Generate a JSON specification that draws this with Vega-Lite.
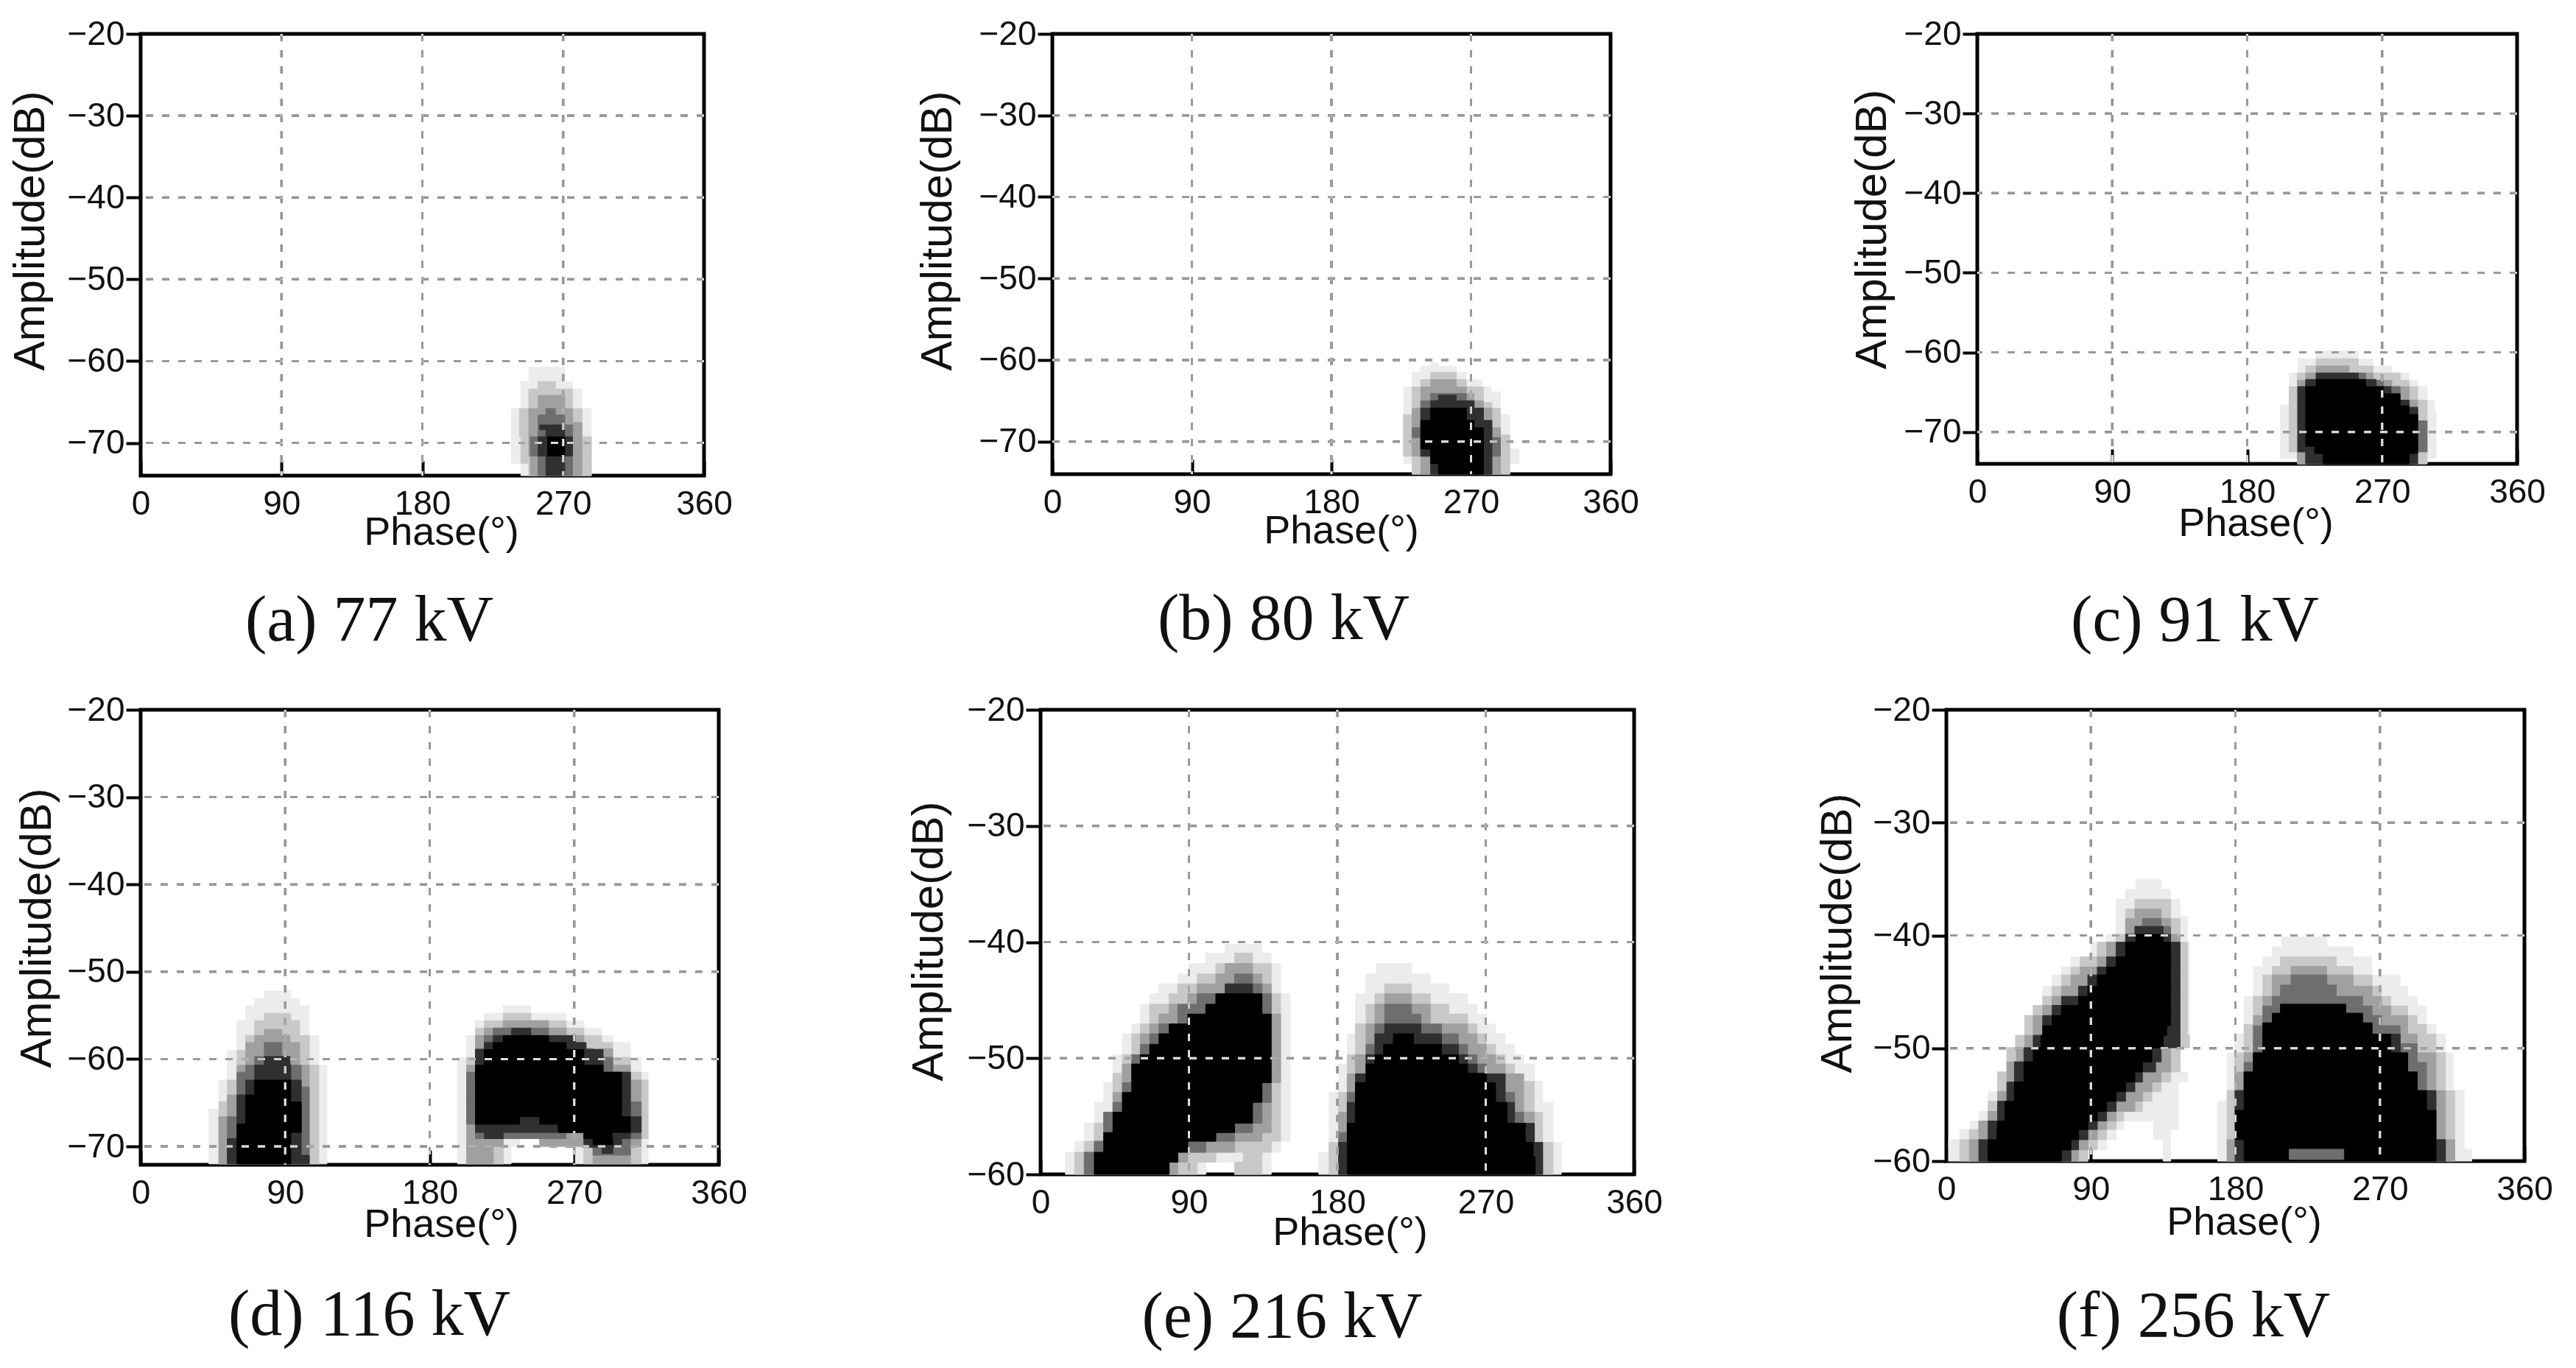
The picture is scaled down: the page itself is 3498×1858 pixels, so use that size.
{"$schema":"https://vega.github.io/schema/vega-lite/v6.json","background":"white","padding":{"left":8,"top":20,"right":0,"bottom":0},"autosize":{"type":"pad"},"spacing":47,
"config":{"view":{"stroke":"#000","strokeWidth":5},"axis":{"grid":false,"domain":false,"tickColor":"#000","tickWidth":4,"labelFont":"Liberation Sans","labelFontSize":46,"labelColor":"#111","titleFont":"Liberation Sans","titleFontSize":54,"titleFontWeight":"normal","titleColor":"#111","labelOverlap":false,"labelFlush":false,"labelBound":false,"zindex":1},"title":{"font":"Liberation Serif","fontSize":88,"fontWeight":"normal","color":"#111","orient":"bottom","anchor":"middle","frame":"group"},"rule":{"strokeDash":[10,12],"strokeWidth":3}},
"datasets":{
"xg":[{"p":90},{"p":180},{"p":270}],
"yg5":[{"q":-30},{"q":-40},{"q":-50},{"q":-60},{"q":-70}],
"yg3":[{"q":-30},{"q":-40},{"q":-50}],
"blank":[{"s":0}],
"a":[
{"a0":-60.75,"a1":-62.5,"p0":248,"p1":271,"v":1},{"a0":-62.5,"a1":-63.4,"p0":243,"p1":276,"v":1},{"a0":-63.4,"a1":-65.8,"p0":243,"p1":282,"v":1},{"a0":-65.8,"a1":-72.5,"p0":237,"p1":288,"v":1},{"a0":-72.5,"a1":-74,"p0":243,"p1":288,"v":1},
{"a0":-62.5,"a1":-63.4,"p0":254,"p1":265,"v":2},{"a0":-63.4,"a1":-65.8,"p0":248,"p1":276,"v":2},{"a0":-65.8,"a1":-69.25,"p0":242,"p1":282,"v":2},{"a0":-69.25,"a1":-72.5,"p0":243,"p1":288,"v":2},{"a0":-72.5,"a1":-74,"p0":248,"p1":288,"v":2},
{"a0":-64.2,"a1":-65.8,"p0":254,"p1":271,"v":3},{"a0":-65.8,"a1":-67.5,"p0":248,"p1":276,"v":3},{"a0":-67.5,"a1":-71.6,"p0":248,"p1":282,"v":3},{"a0":-71.6,"a1":-74,"p0":249,"p1":282,"v":3},
{"a0":-65.8,"a1":-66.6,"p0":259,"p1":265,"v":4},{"a0":-66.6,"a1":-67.8,"p0":254,"p1":271,"v":4},{"a0":-67.8,"a1":-69.25,"p0":254,"p1":276,"v":4},{"a0":-69.25,"a1":-71.6,"p0":249,"p1":276,"v":4},{"a0":-71.6,"a1":-74,"p0":254,"p1":276,"v":4},
{"a0":-67.8,"a1":-68.4,"p0":255,"p1":270,"v":5},{"a0":-68.4,"a1":-69.25,"p0":259,"p1":271,"v":5},{"a0":-69.25,"a1":-71.6,"p0":254,"p1":276,"v":5},{"a0":-71.6,"a1":-74,"p0":259,"p1":271,"v":5},
{"a0":-69.25,"a1":-71.6,"p0":260,"p1":271,"v":6}],
"b":[
{"a0":-60.3,"a1":-60.8,"p0":244,"p1":249,"v":1},{"a0":-60.8,"a1":-61.5,"p0":237.6,"p1":260.5,"v":1},{"a0":-61.5,"a1":-62.4,"p0":232,"p1":267,"v":1},{"a0":-62.4,"a1":-63.3,"p0":232,"p1":277,"v":1},{"a0":-63.3,"a1":-63.9,"p0":226.5,"p1":283,"v":1},{"a0":-63.9,"a1":-66.7,"p0":226.5,"p1":289,"v":1},{"a0":-66.7,"a1":-70.9,"p0":226.5,"p1":295,"v":1},{"a0":-70.9,"a1":-72.7,"p0":226.5,"p1":301,"v":1},{"a0":-72.7,"a1":-74,"p0":232,"p1":295,"v":1},
{"a0":-61.5,"a1":-62.4,"p0":244,"p1":260.5,"v":2},{"a0":-62.4,"a1":-63.3,"p0":237.6,"p1":267,"v":2},{"a0":-63.3,"a1":-65.2,"p0":232,"p1":278,"v":2},{"a0":-65.2,"a1":-65.9,"p0":232,"p1":283.5,"v":2},{"a0":-65.9,"a1":-66.7,"p0":232,"p1":289,"v":2},{"a0":-66.7,"a1":-69.2,"p0":226.5,"p1":289,"v":2},{"a0":-69.2,"a1":-71.8,"p0":226.5,"p1":295,"v":2},{"a0":-71.8,"a1":-74,"p0":232,"p1":295,"v":2},
{"a0":-62.4,"a1":-63.3,"p0":244,"p1":260.5,"v":3},{"a0":-63.3,"a1":-64.1,"p0":237.6,"p1":267,"v":3},{"a0":-64.1,"a1":-65,"p0":237.6,"p1":272,"v":3},{"a0":-65,"a1":-65.9,"p0":237.6,"p1":278,"v":3},{"a0":-65.9,"a1":-68.3,"p0":232,"p1":283.5,"v":3},{"a0":-68.3,"a1":-71.8,"p0":232,"p1":289,"v":3},{"a0":-71.8,"a1":-74,"p0":237.6,"p1":289,"v":3},
{"a0":-64.1,"a1":-65,"p0":244,"p1":267,"v":4},{"a0":-65,"a1":-65.9,"p0":237.6,"p1":272,"v":4},{"a0":-65.9,"a1":-68.3,"p0":237.6,"p1":278,"v":4},{"a0":-68.3,"a1":-69.5,"p0":232,"p1":283.5,"v":4},{"a0":-69.5,"a1":-71.8,"p0":237.6,"p1":289,"v":4},{"a0":-71.8,"a1":-74,"p0":244,"p1":283.5,"v":4},
{"a0":-64.3,"a1":-65,"p0":249,"p1":260.5,"v":5},{"a0":-65,"a1":-65.9,"p0":244,"p1":272,"v":5},{"a0":-65.9,"a1":-67.4,"p0":237.6,"p1":278,"v":5},{"a0":-67.4,"a1":-71.8,"p0":237.6,"p1":283.5,"v":5},{"a0":-71.8,"a1":-74,"p0":244,"p1":283.5,"v":5},
{"a0":-65.9,"a1":-67.4,"p0":244,"p1":267,"v":6},{"a0":-67.4,"a1":-68.3,"p0":237.6,"p1":272,"v":6},{"a0":-68.3,"a1":-70.9,"p0":237.6,"p1":278,"v":6},{"a0":-70.9,"a1":-72.7,"p0":244,"p1":278,"v":6},{"a0":-72.7,"a1":-74,"p0":249,"p1":278,"v":6}],
"c":[
{"a0":-59.85,"a1":-60.8,"p0":226,"p1":254,"v":1},{"a0":-60.8,"a1":-61.7,"p0":214,"p1":264,"v":1},{"a0":-61.7,"a1":-62.6,"p0":214,"p1":276.5,"v":1},{"a0":-62.6,"a1":-63.5,"p0":208,"p1":288,"v":1},{"a0":-63.5,"a1":-64.3,"p0":208,"p1":293.7,"v":1},{"a0":-64.3,"a1":-66,"p0":208,"p1":300,"v":1},{"a0":-66,"a1":-66.6,"p0":208,"p1":305,"v":1},{"a0":-66.6,"a1":-67.5,"p0":202,"p1":305,"v":1},{"a0":-67.5,"a1":-73.3,"p0":202,"p1":306,"v":1},{"a0":-73.3,"a1":-74,"p0":214,"p1":300,"v":1},
{"a0":-60.8,"a1":-61.7,"p0":226,"p1":254,"v":2},{"a0":-61.7,"a1":-62.6,"p0":219,"p1":264,"v":2},{"a0":-62.6,"a1":-63.5,"p0":213.5,"p1":282,"v":2},{"a0":-63.5,"a1":-64.3,"p0":213.5,"p1":288,"v":2},{"a0":-64.3,"a1":-66,"p0":208,"p1":293.7,"v":2},{"a0":-66,"a1":-72.5,"p0":208,"p1":300,"v":2},{"a0":-72.5,"a1":-74,"p0":213.5,"p1":300,"v":2},
{"a0":-61.7,"a1":-62.6,"p0":226,"p1":248,"v":3},{"a0":-62.6,"a1":-63.5,"p0":219,"p1":264,"v":3},{"a0":-63.5,"a1":-64.3,"p0":213.5,"p1":276.5,"v":3},{"a0":-64.3,"a1":-66,"p0":213.5,"p1":288,"v":3},{"a0":-66,"a1":-74,"p0":213.5,"p1":293.7,"v":3},
{"a0":-62.6,"a1":-63.5,"p0":226,"p1":259,"v":4},{"a0":-63.5,"a1":-64.3,"p0":219,"p1":271,"v":4},{"a0":-64.3,"a1":-66,"p0":213.5,"p1":282,"v":4},{"a0":-66,"a1":-66.9,"p0":213.5,"p1":288,"v":4},{"a0":-66.9,"a1":-68.6,"p0":213.5,"p1":293.7,"v":4},{"a0":-68.6,"a1":-72.5,"p0":213.5,"p1":300,"v":4},{"a0":-72.5,"a1":-74,"p0":219,"p1":288,"v":4},
{"a0":-62.6,"a1":-63.4,"p0":226,"p1":254,"v":5},{"a0":-63.4,"a1":-64.3,"p0":219,"p1":266,"v":5},{"a0":-64.3,"a1":-66,"p0":214,"p1":276,"v":5},{"a0":-66,"a1":-66.9,"p0":214,"p1":288,"v":5},{"a0":-66.9,"a1":-72.5,"p0":214,"p1":293.7,"v":5},{"a0":-72.5,"a1":-74,"p0":219,"p1":293.7,"v":5},
{"a0":-63.4,"a1":-64.3,"p0":226,"p1":259,"v":6},{"a0":-64.3,"a1":-65.2,"p0":219,"p1":271,"v":6},{"a0":-65.2,"a1":-66.7,"p0":219,"p1":282,"v":6},{"a0":-66.7,"a1":-67.8,"p0":219,"p1":288,"v":6},{"a0":-67.8,"a1":-71.8,"p0":219,"p1":293.7,"v":6},{"a0":-71.8,"a1":-72.7,"p0":225,"p1":293.7,"v":6},{"a0":-72.7,"a1":-74,"p0":230.7,"p1":288,"v":6}],
"d":[
{"a0":-52.2,"a1":-53.06,"p0":77,"p1":93.5,"v":1},{"a0":-53.06,"a1":-53.9,"p0":71,"p1":99,"v":1},{"a0":-53.9,"a1":-55.6,"p0":65.4,"p1":105,"v":1},{"a0":-55.6,"a1":-57.3,"p0":60,"p1":105,"v":1},{"a0":-57.3,"a1":-59,"p0":60,"p1":111,"v":1},{"a0":-59,"a1":-60.7,"p0":54,"p1":111,"v":1},{"a0":-60.7,"a1":-62.4,"p0":54,"p1":116,"v":1},{"a0":-62.4,"a1":-65.75,"p0":48.7,"p1":116,"v":1},{"a0":-65.75,"a1":-72,"p0":42.5,"p1":116,"v":1},
{"a0":-53.9,"a1":-54.75,"p0":225.8,"p1":243,"v":1},{"a0":-54.75,"a1":-55.6,"p0":214,"p1":265,"v":1},{"a0":-55.6,"a1":-56.45,"p0":208.5,"p1":276,"v":1},{"a0":-56.45,"a1":-57.3,"p0":208.5,"p1":287,"v":1},{"a0":-57.3,"a1":-58.1,"p0":203,"p1":294,"v":1},{"a0":-58.1,"a1":-59.8,"p0":203,"p1":305,"v":1},{"a0":-59.8,"a1":-61.5,"p0":197.4,"p1":311.7,"v":1},{"a0":-61.5,"a1":-69.1,"p0":197.4,"p1":316,"v":1},{"a0":-69.1,"a1":-70,"p0":197.4,"p1":236,"v":1},{"a0":-69.1,"a1":-70,"p0":248.5,"p1":316,"v":1},{"a0":-70,"a1":-72,"p0":197.4,"p1":230.7,"v":1},{"a0":-70,"a1":-72,"p0":270.7,"p1":316,"v":1},
{"a0":-54.75,"a1":-55.6,"p0":77,"p1":93.5,"v":2},{"a0":-55.6,"a1":-57.3,"p0":71,"p1":99,"v":2},{"a0":-57.3,"a1":-59,"p0":65.4,"p1":105,"v":2},{"a0":-59,"a1":-60.7,"p0":60,"p1":105,"v":2},{"a0":-60.7,"a1":-62.4,"p0":60,"p1":111,"v":2},{"a0":-62.4,"a1":-64.9,"p0":54,"p1":111,"v":2},{"a0":-64.9,"a1":-72,"p0":48.7,"p1":111,"v":2},
{"a0":-54.75,"a1":-55.6,"p0":225.8,"p1":243,"v":2},{"a0":-55.6,"a1":-56.45,"p0":214,"p1":265,"v":2},{"a0":-56.45,"a1":-57.3,"p0":208.5,"p1":276,"v":2},{"a0":-57.3,"a1":-58.1,"p0":208.5,"p1":287,"v":2},{"a0":-58.1,"a1":-59.8,"p0":208.5,"p1":294,"v":2},{"a0":-59.8,"a1":-61.5,"p0":203,"p1":305,"v":2},{"a0":-61.5,"a1":-62.4,"p0":203,"p1":311.7,"v":2},{"a0":-62.4,"a1":-68.4,"p0":203,"p1":316,"v":2},{"a0":-68.4,"a1":-69.1,"p0":203,"p1":236,"v":2},{"a0":-68.4,"a1":-69.1,"p0":248.5,"p1":316,"v":2},{"a0":-69.1,"a1":-72,"p0":203,"p1":225.8,"v":2},{"a0":-69.1,"a1":-72,"p0":276,"p1":311.7,"v":2},
{"a0":-56.6,"a1":-57.3,"p0":77,"p1":88,"v":3},{"a0":-57.3,"a1":-58.1,"p0":71,"p1":93,"v":3},{"a0":-58.1,"a1":-60.7,"p0":65.4,"p1":99,"v":3},{"a0":-60.7,"a1":-64.1,"p0":60,"p1":105,"v":3},{"a0":-64.1,"a1":-66.6,"p0":54,"p1":105,"v":3},{"a0":-66.6,"a1":-72,"p0":48.7,"p1":105,"v":3},
{"a0":-55.6,"a1":-56.45,"p0":225.8,"p1":254,"v":3},{"a0":-56.45,"a1":-57.3,"p0":214,"p1":265,"v":3},{"a0":-57.3,"a1":-58.8,"p0":208.5,"p1":276,"v":3},{"a0":-58.8,"a1":-60.7,"p0":208.5,"p1":294,"v":3},{"a0":-60.7,"a1":-62.4,"p0":203,"p1":305,"v":3},{"a0":-62.4,"a1":-67.45,"p0":203,"p1":311.7,"v":3},{"a0":-67.45,"a1":-70,"p0":203,"p1":225.8,"v":3},{"a0":-67.45,"a1":-70,"p0":248.5,"p1":311.7,"v":3},{"a0":-70,"a1":-72,"p0":203,"p1":219.6,"v":3},{"a0":-70,"a1":-72,"p0":281.7,"p1":305,"v":3},
{"a0":-58.1,"a1":-59.7,"p0":77,"p1":88,"v":4},{"a0":-59.7,"a1":-60.7,"p0":71,"p1":93,"v":4},{"a0":-60.7,"a1":-61.5,"p0":65.4,"p1":100,"v":4},{"a0":-61.5,"a1":-63.2,"p0":60,"p1":100,"v":4},{"a0":-63.2,"a1":-66.6,"p0":60,"p1":105,"v":4},{"a0":-66.6,"a1":-72,"p0":54,"p1":105,"v":4},
{"a0":-56.45,"a1":-57.3,"p0":219.6,"p1":254,"v":4},{"a0":-57.3,"a1":-58.8,"p0":214,"p1":270.7,"v":4},{"a0":-58.8,"a1":-59.8,"p0":208.5,"p1":281.7,"v":4},{"a0":-59.8,"a1":-61.5,"p0":208.5,"p1":294,"v":4},{"a0":-61.5,"a1":-64.9,"p0":203,"p1":305,"v":4},{"a0":-64.9,"a1":-67.45,"p0":203,"p1":311.7,"v":4},{"a0":-67.45,"a1":-69.1,"p0":208.5,"p1":265,"v":4},{"a0":-67.45,"a1":-69.1,"p0":276,"p1":311.7,"v":4},{"a0":-69.1,"a1":-71,"p0":281.7,"p1":305,"v":4},
{"a0":-59.7,"a1":-60.7,"p0":77,"p1":93,"v":5},{"a0":-60.7,"a1":-62.4,"p0":71,"p1":93.5,"v":5},{"a0":-62.4,"a1":-64.1,"p0":65.4,"p1":100,"v":5},{"a0":-64.1,"a1":-69.1,"p0":60,"p1":100,"v":5},{"a0":-69.1,"a1":-71,"p0":54,"p1":100,"v":5},{"a0":-71,"a1":-72,"p0":54,"p1":105,"v":5},
{"a0":-56.45,"a1":-57.3,"p0":231,"p1":243,"v":5},{"a0":-57.3,"a1":-58.1,"p0":219.6,"p1":270.7,"v":5},{"a0":-58.1,"a1":-58.9,"p0":214,"p1":277.4,"v":5},{"a0":-58.9,"a1":-61.5,"p0":208.5,"p1":288,"v":5},{"a0":-61.5,"a1":-66.6,"p0":208.5,"p1":305,"v":5},{"a0":-66.6,"a1":-68.4,"p0":208.5,"p1":311.7,"v":5},{"a0":-68.4,"a1":-69.1,"p0":214,"p1":225.8,"v":5},{"a0":-68.4,"a1":-69.1,"p0":276,"p1":305,"v":5},{"a0":-69.1,"a1":-70.1,"p0":276,"p1":299.5,"v":5},{"a0":-70.1,"a1":-70.8,"p0":287.3,"p1":294,"v":5},
{"a0":-62.4,"a1":-64.1,"p0":71,"p1":93.5,"v":6},{"a0":-64.1,"a1":-64.9,"p0":65.4,"p1":93.5,"v":6},{"a0":-64.9,"a1":-67.45,"p0":65.4,"p1":100,"v":6},{"a0":-67.45,"a1":-68.4,"p0":60,"p1":100,"v":6},{"a0":-68.4,"a1":-72,"p0":60,"p1":93.5,"v":6},
{"a0":-57.3,"a1":-58.1,"p0":225.8,"p1":254,"v":6},{"a0":-58.1,"a1":-58.9,"p0":219.6,"p1":265,"v":6},{"a0":-58.9,"a1":-60.7,"p0":214,"p1":276,"v":6},{"a0":-60.7,"a1":-61.5,"p0":208.5,"p1":288,"v":6},{"a0":-61.5,"a1":-66.6,"p0":208.5,"p1":299.5,"v":6},{"a0":-66.6,"a1":-67.45,"p0":208.5,"p1":236,"v":6},{"a0":-66.6,"a1":-67.45,"p0":248.5,"p1":305,"v":6},{"a0":-67.45,"a1":-68.4,"p0":260,"p1":305,"v":6},{"a0":-68.4,"a1":-69.1,"p0":276,"p1":293.5,"v":6},{"a0":-69.1,"a1":-69.8,"p0":281.7,"p1":294,"v":6}],
"e":[
{"a0":-40.2,"a1":-40.95,"p0":112,"p1":134.3,"v":1},{"a0":-40.95,"a1":-41.85,"p0":100.2,"p1":139.9,"v":1},{"a0":-41.85,"a1":-42.75,"p0":90,"p1":145.6,"v":1},{"a0":-42.75,"a1":-43.6,"p0":83.2,"p1":145.6,"v":1},{"a0":-43.6,"a1":-44.45,"p0":71.8,"p1":145.6,"v":1},{"a0":-44.45,"a1":-45.35,"p0":66.2,"p1":151.3,"v":1},{"a0":-45.35,"a1":-47.05,"p0":60.5,"p1":151.3,"v":1},{"a0":-47.05,"a1":-47.9,"p0":55.3,"p1":151.3,"v":1},{"a0":-47.9,"a1":-49.7,"p0":49.6,"p1":151.3,"v":1},{"a0":-49.7,"a1":-52.1,"p0":43.9,"p1":151.3,"v":1},{"a0":-52.1,"a1":-53.8,"p0":38.3,"p1":151.3,"v":1},{"a0":-53.8,"a1":-55.6,"p0":32.6,"p1":151.3,"v":1},{"a0":-55.6,"a1":-57.15,"p0":26.5,"p1":151.3,"v":1},{"a0":-57.15,"a1":-58.1,"p0":20.8,"p1":145.6,"v":1},{"a0":-58.1,"a1":-58.95,"p0":15.1,"p1":139.9,"v":1},{"a0":-58.95,"a1":-60,"p0":15.1,"p1":100.2,"v":1},{"a0":-58.95,"a1":-60,"p0":117.7,"p1":139.9,"v":1},
{"a0":-41.85,"a1":-42.75,"p0":203.5,"p1":225,"v":1},{"a0":-42.75,"a1":-43.6,"p0":197.4,"p1":236.4,"v":1},{"a0":-43.6,"a1":-44.45,"p0":197.4,"p1":247.7,"v":1},{"a0":-44.45,"a1":-45.35,"p0":191,"p1":259,"v":1},{"a0":-45.35,"a1":-46.2,"p0":191,"p1":264.8,"v":1},{"a0":-46.2,"a1":-47.05,"p0":191,"p1":270.4,"v":1},{"a0":-47.05,"a1":-47.9,"p0":191,"p1":276,"v":1},{"a0":-47.9,"a1":-48.8,"p0":186,"p1":281.8,"v":1},{"a0":-48.8,"a1":-49.7,"p0":186,"p1":287.5,"v":1},{"a0":-49.7,"a1":-50.5,"p0":186,"p1":293,"v":1},{"a0":-50.5,"a1":-52,"p0":180.8,"p1":299.5,"v":1},{"a0":-52,"a1":-52.95,"p0":180.8,"p1":304.5,"v":1},{"a0":-52.95,"a1":-53.8,"p0":175,"p1":304.5,"v":1},{"a0":-53.8,"a1":-57.25,"p0":175,"p1":310.8,"v":1},{"a0":-57.25,"a1":-58.1,"p0":175,"p1":315.8,"v":1},{"a0":-58.1,"a1":-60,"p0":168.8,"p1":315.8,"v":1},
{"a0":-40.95,"a1":-41.85,"p0":117.7,"p1":128.6,"v":2},{"a0":-41.85,"a1":-42.75,"p0":106.3,"p1":139.9,"v":2},{"a0":-42.75,"a1":-43.6,"p0":95,"p1":139.9,"v":2},{"a0":-43.6,"a1":-44.45,"p0":83.2,"p1":139.9,"v":2},{"a0":-44.45,"a1":-45.35,"p0":78,"p1":145.6,"v":2},{"a0":-45.35,"a1":-47.05,"p0":66.2,"p1":145.6,"v":2},{"a0":-47.05,"a1":-47.9,"p0":60.5,"p1":145.6,"v":2},{"a0":-47.9,"a1":-49.7,"p0":55.3,"p1":145.6,"v":2},{"a0":-49.7,"a1":-51.3,"p0":49.6,"p1":145.6,"v":2},{"a0":-51.3,"a1":-54.65,"p0":43.9,"p1":145.6,"v":2},{"a0":-54.65,"a1":-55.6,"p0":38.3,"p1":145.6,"v":2},{"a0":-55.6,"a1":-57.15,"p0":32.6,"p1":145.6,"v":2},{"a0":-57.15,"a1":-58.1,"p0":26.5,"p1":139.9,"v":2},{"a0":-58.1,"a1":-58.95,"p0":20.8,"p1":106.3,"v":2},{"a0":-58.1,"a1":-58.95,"p0":122.9,"p1":134.3,"v":2},{"a0":-58.95,"a1":-60,"p0":20.8,"p1":95,"v":2},{"a0":-58.95,"a1":-60,"p0":117.7,"p1":134.3,"v":2},
{"a0":-43.6,"a1":-44.45,"p0":208.7,"p1":225,"v":2},{"a0":-44.45,"a1":-45.35,"p0":202.8,"p1":236.4,"v":2},{"a0":-45.35,"a1":-46.2,"p0":197.4,"p1":247.7,"v":2},{"a0":-46.2,"a1":-47.05,"p0":197.4,"p1":259,"v":2},{"a0":-47.05,"a1":-47.9,"p0":191,"p1":264.8,"v":2},{"a0":-47.9,"a1":-48.8,"p0":191,"p1":270.4,"v":2},{"a0":-48.8,"a1":-49.7,"p0":191,"p1":276,"v":2},{"a0":-49.7,"a1":-50.5,"p0":186,"p1":281.8,"v":2},{"a0":-50.5,"a1":-51.35,"p0":186,"p1":287.5,"v":2},{"a0":-51.35,"a1":-52,"p0":186,"p1":293,"v":2},{"a0":-52,"a1":-52.95,"p0":186,"p1":299.5,"v":2},{"a0":-52.95,"a1":-54.65,"p0":180.8,"p1":299.5,"v":2},{"a0":-54.65,"a1":-57.25,"p0":180.8,"p1":304.5,"v":2},{"a0":-57.25,"a1":-60,"p0":175,"p1":310.8,"v":2},
{"a0":-41.85,"a1":-42.75,"p0":112,"p1":128.6,"v":3},{"a0":-42.75,"a1":-43.6,"p0":106.3,"p1":134.3,"v":3},{"a0":-43.6,"a1":-44.45,"p0":95,"p1":139.9,"v":3},{"a0":-44.45,"a1":-45.35,"p0":89.3,"p1":139.9,"v":3},{"a0":-45.35,"a1":-46.2,"p0":78,"p1":139.9,"v":3},{"a0":-46.2,"a1":-47.05,"p0":71.8,"p1":145.6,"v":3},{"a0":-47.05,"a1":-47.9,"p0":66.2,"p1":145.6,"v":3},{"a0":-47.9,"a1":-49.7,"p0":60.5,"p1":145.6,"v":3},{"a0":-49.7,"a1":-50.5,"p0":55.3,"p1":145.6,"v":3},{"a0":-50.5,"a1":-52.1,"p0":49.6,"p1":145.6,"v":3},{"a0":-52.1,"a1":-52.95,"p0":49.6,"p1":139.9,"v":3},{"a0":-52.95,"a1":-54.65,"p0":43.9,"p1":139.9,"v":3},{"a0":-54.65,"a1":-56.4,"p0":38.3,"p1":139.9,"v":3},{"a0":-56.4,"a1":-57.15,"p0":38.3,"p1":134.3,"v":3},{"a0":-57.15,"a1":-58.1,"p0":32.6,"p1":117.7,"v":3},{"a0":-58.1,"a1":-58.95,"p0":26.5,"p1":89.3,"v":3},{"a0":-58.95,"a1":-60,"p0":26.5,"p1":83.2,"v":3},
{"a0":-44.45,"a1":-45.35,"p0":208.7,"p1":225,"v":3},{"a0":-45.35,"a1":-47.05,"p0":202.8,"p1":236.4,"v":3},{"a0":-47.05,"a1":-47.9,"p0":197.4,"p1":259,"v":3},{"a0":-47.9,"a1":-48.8,"p0":197.4,"p1":264.8,"v":3},{"a0":-48.8,"a1":-49.7,"p0":197.4,"p1":270.4,"v":3},{"a0":-49.7,"a1":-50.5,"p0":191,"p1":276,"v":3},{"a0":-50.5,"a1":-51.35,"p0":191,"p1":281.8,"v":3},{"a0":-51.35,"a1":-54.65,"p0":186,"p1":293,"v":3},{"a0":-54.65,"a1":-57.25,"p0":180.8,"p1":299.5,"v":3},{"a0":-57.25,"a1":-60,"p0":180.8,"p1":304.5,"v":3},
{"a0":-42.75,"a1":-43.6,"p0":117.7,"p1":128.6,"v":4},{"a0":-43.6,"a1":-44.45,"p0":112,"p1":134.3,"v":4},{"a0":-44.45,"a1":-45.35,"p0":95,"p1":139.9,"v":4},{"a0":-45.35,"a1":-47.05,"p0":83.2,"p1":139.9,"v":4},{"a0":-47.05,"a1":-47.9,"p0":71.8,"p1":139.9,"v":4},{"a0":-47.9,"a1":-48.8,"p0":66.2,"p1":139.9,"v":4},{"a0":-48.8,"a1":-49.7,"p0":60.5,"p1":139.9,"v":4},{"a0":-49.7,"a1":-52.1,"p0":55.3,"p1":139.9,"v":4},{"a0":-52.1,"a1":-53.8,"p0":49.6,"p1":139.9,"v":4},{"a0":-53.8,"a1":-54.65,"p0":43.9,"p1":134.3,"v":4},{"a0":-54.65,"a1":-55.6,"p0":38.3,"p1":134.3,"v":4},{"a0":-55.6,"a1":-56.4,"p0":38.3,"p1":128.6,"v":4},{"a0":-56.4,"a1":-57.15,"p0":38.3,"p1":117.7,"v":4},{"a0":-57.15,"a1":-58.1,"p0":32.6,"p1":100.2,"v":4},{"a0":-58.1,"a1":-58.95,"p0":26.5,"p1":83.2,"v":4},{"a0":-58.95,"a1":-60,"p0":26.5,"p1":78,"v":4},
{"a0":-45.35,"a1":-46.2,"p0":208.7,"p1":225,"v":4},{"a0":-46.2,"a1":-47.05,"p0":208.7,"p1":230.7,"v":4},{"a0":-47.05,"a1":-47.9,"p0":202.8,"p1":243.2,"v":4},{"a0":-47.9,"a1":-48.8,"p0":202.8,"p1":253.4,"v":4},{"a0":-48.8,"a1":-49.7,"p0":197.4,"p1":259,"v":4},{"a0":-49.7,"a1":-50.5,"p0":197.4,"p1":264.8,"v":4},{"a0":-50.5,"a1":-51.35,"p0":197.4,"p1":270.4,"v":4},{"a0":-51.35,"a1":-52.95,"p0":191,"p1":281.8,"v":4},{"a0":-52.95,"a1":-54.65,"p0":186,"p1":287.5,"v":4},{"a0":-54.65,"a1":-56.4,"p0":186,"p1":293,"v":4},{"a0":-56.4,"a1":-57.25,"p0":180.8,"p1":299.5,"v":4},{"a0":-57.25,"a1":-60,"p0":180.8,"p1":304.5,"v":4},
{"a0":-43.6,"a1":-44.45,"p0":112,"p1":128.6,"v":5},{"a0":-47.05,"a1":-47.9,"p0":208.7,"p1":230.7,"v":5},{"a0":-47.9,"a1":-48.8,"p0":202.8,"p1":243.2,"v":5},{"a0":-48.8,"a1":-49.7,"p0":202.8,"p1":253.4,"v":5},{"a0":-49.7,"a1":-50.5,"p0":197.4,"p1":259,"v":5},{"a0":-50.5,"a1":-51.35,"p0":197.4,"p1":264.8,"v":5},{"a0":-51.35,"a1":-53.8,"p0":191,"p1":281.8,"v":5},{"a0":-53.8,"a1":-55.6,"p0":186,"p1":287.5,"v":5},{"a0":-55.6,"a1":-57.25,"p0":186,"p1":299.5,"v":5},{"a0":-57.25,"a1":-60,"p0":180.8,"p1":304.5,"v":5},
{"a0":-44.45,"a1":-45.35,"p0":106.3,"p1":134.3,"v":6},{"a0":-45.35,"a1":-46.2,"p0":100.2,"p1":134.3,"v":6},{"a0":-46.2,"a1":-47.05,"p0":89.3,"p1":139.9,"v":6},{"a0":-47.05,"a1":-47.9,"p0":78,"p1":139.9,"v":6},{"a0":-47.9,"a1":-48.8,"p0":71.8,"p1":139.9,"v":6},{"a0":-48.8,"a1":-49.7,"p0":66.2,"p1":139.9,"v":6},{"a0":-49.7,"a1":-50.5,"p0":60.5,"p1":139.9,"v":6},{"a0":-50.5,"a1":-52.1,"p0":55.3,"p1":139.9,"v":6},{"a0":-52.1,"a1":-52.95,"p0":55.3,"p1":134.3,"v":6},{"a0":-52.95,"a1":-53.8,"p0":49.6,"p1":134.3,"v":6},{"a0":-53.8,"a1":-54.65,"p0":49.6,"p1":128.6,"v":6},{"a0":-54.65,"a1":-55.6,"p0":43.9,"p1":128.6,"v":6},{"a0":-55.6,"a1":-56.4,"p0":43.9,"p1":117.7,"v":6},{"a0":-56.4,"a1":-57.15,"p0":38.3,"p1":106.3,"v":6},{"a0":-57.15,"a1":-58.1,"p0":38.3,"p1":89.3,"v":6},{"a0":-58.1,"a1":-58.95,"p0":32.6,"p1":83.2,"v":6},{"a0":-58.95,"a1":-60,"p0":32.6,"p1":78,"v":6},
{"a0":-47.9,"a1":-48.8,"p0":214,"p1":226.2,"v":6},{"a0":-48.8,"a1":-49.7,"p0":208,"p1":243.2,"v":6},{"a0":-49.7,"a1":-50.5,"p0":202.8,"p1":253.4,"v":6},{"a0":-50.5,"a1":-51.3,"p0":197.4,"p1":259,"v":6},{"a0":-51.3,"a1":-52.1,"p0":197.4,"p1":270.4,"v":6},{"a0":-52.1,"a1":-53.8,"p0":191,"p1":276,"v":6},{"a0":-53.8,"a1":-55.6,"p0":191,"p1":283,"v":6},{"a0":-55.6,"a1":-57.25,"p0":186,"p1":294,"v":6},{"a0":-57.25,"a1":-58.5,"p0":186,"p1":298.8,"v":6},{"a0":-58.5,"a1":-60,"p0":186,"p1":300,"v":6}],
"f":[
{"a0":-35.04,"a1":-35.9,"p0":118,"p1":133.8,"v":1},{"a0":-35.9,"a1":-36.8,"p0":111.6,"p1":139.7,"v":1},{"a0":-36.8,"a1":-38.3,"p0":105.7,"p1":145.5,"v":1},{"a0":-38.3,"a1":-39.9,"p0":105.7,"p1":150.2,"v":1},{"a0":-39.9,"a1":-40.6,"p0":99.8,"p1":150.2,"v":1},{"a0":-40.6,"a1":-41.9,"p0":90,"p1":151.4,"v":1},{"a0":-41.9,"a1":-42.8,"p0":77.6,"p1":151.4,"v":1},{"a0":-42.8,"a1":-43.5,"p0":71.7,"p1":151.4,"v":1},{"a0":-43.5,"a1":-44.5,"p0":65.9,"p1":151.4,"v":1},{"a0":-44.5,"a1":-46.2,"p0":60,"p1":151.4,"v":1},{"a0":-46.2,"a1":-47.1,"p0":54.1,"p1":151.4,"v":1},{"a0":-47.1,"a1":-48.85,"p0":48.8,"p1":151.4,"v":1},{"a0":-48.85,"a1":-49.95,"p0":43.1,"p1":151.4,"v":1},{"a0":-49.95,"a1":-51.2,"p0":37.7,"p1":145.5,"v":1},{"a0":-51.2,"a1":-52.1,"p0":37.7,"p1":145.5,"v":1},{"a0":-52.1,"a1":-53,"p0":31.9,"p1":150.2,"v":1},{"a0":-53,"a1":-53.85,"p0":31.9,"p1":144.4,"v":1},{"a0":-53.85,"a1":-54.7,"p0":26,"p1":144.4,"v":1},{"a0":-54.7,"a1":-55.6,"p0":26,"p1":144.4,"v":1},{"a0":-55.6,"a1":-56.45,"p0":20.2,"p1":144.4,"v":1},{"a0":-56.45,"a1":-57.2,"p0":15,"p1":110.4,"v":1},{"a0":-56.45,"a1":-57.2,"p0":129.1,"p1":144.4,"v":1},{"a0":-57.2,"a1":-58.1,"p0":8.4,"p1":105.7,"v":1},{"a0":-57.2,"a1":-58.1,"p0":129.1,"p1":139.7,"v":1},{"a0":-58.1,"a1":-59,"p0":1.4,"p1":99.8,"v":1},{"a0":-58.1,"a1":-60,"p0":135,"p1":139.7,"v":1},{"a0":-59,"a1":-60,"p0":1.4,"p1":88.1,"v":1},
{"a0":-40.15,"a1":-41,"p0":208.8,"p1":237,"v":1},{"a0":-41,"a1":-41.9,"p0":203,"p1":253.4,"v":1},{"a0":-41.9,"a1":-42.75,"p0":197,"p1":265,"v":1},{"a0":-42.75,"a1":-43.5,"p0":191.2,"p1":265,"v":1},{"a0":-43.5,"a1":-44.5,"p0":191.2,"p1":282.6,"v":1},{"a0":-44.5,"a1":-45.4,"p0":191.2,"p1":287.3,"v":1},{"a0":-45.4,"a1":-46.25,"p0":185.4,"p1":293.2,"v":1},{"a0":-46.25,"a1":-47.9,"p0":185.4,"p1":299,"v":1},{"a0":-47.9,"a1":-48.75,"p0":185.4,"p1":304.9,"v":1},{"a0":-48.75,"a1":-50.4,"p0":179.5,"p1":310.8,"v":1},{"a0":-50.4,"a1":-53.75,"p0":174.8,"p1":315.5,"v":1},{"a0":-53.75,"a1":-54.7,"p0":174.8,"p1":322.5,"v":1},{"a0":-54.7,"a1":-58.95,"p0":169,"p1":322.5,"v":1},{"a0":-58.95,"a1":-60,"p0":169,"p1":327.2,"v":1},
{"a0":-36.8,"a1":-37.65,"p0":117.4,"p1":139.7,"v":2},{"a0":-37.65,"a1":-38.5,"p0":111.6,"p1":139.7,"v":2},{"a0":-38.5,"a1":-39.9,"p0":111.6,"p1":145.5,"v":2},{"a0":-39.9,"a1":-40.6,"p0":105.7,"p1":145.5,"v":2},{"a0":-40.6,"a1":-41.9,"p0":94,"p1":150.2,"v":2},{"a0":-41.9,"a1":-42.8,"p0":83.4,"p1":150.2,"v":2},{"a0":-42.8,"a1":-43.5,"p0":77.6,"p1":150.2,"v":2},{"a0":-43.5,"a1":-44.5,"p0":71.7,"p1":150.2,"v":2},{"a0":-44.5,"a1":-45.4,"p0":65.9,"p1":150.2,"v":2},{"a0":-45.4,"a1":-46.2,"p0":60,"p1":150.2,"v":2},{"a0":-46.2,"a1":-47.1,"p0":54.1,"p1":150.2,"v":2},{"a0":-47.1,"a1":-48.85,"p0":48.8,"p1":150.2,"v":2},{"a0":-48.85,"a1":-49.95,"p0":43.1,"p1":151.4,"v":2},{"a0":-49.95,"a1":-52.1,"p0":37.7,"p1":145.5,"v":2},{"a0":-52.1,"a1":-53,"p0":31.9,"p1":139.7,"v":2},{"a0":-53,"a1":-53.85,"p0":31.9,"p1":133.8,"v":2},{"a0":-53.85,"a1":-54.7,"p0":31.9,"p1":128,"v":2},{"a0":-54.7,"a1":-55.6,"p0":26,"p1":122.1,"v":2},{"a0":-55.6,"a1":-56.45,"p0":26,"p1":110.4,"v":2},{"a0":-56.45,"a1":-57.2,"p0":20.2,"p1":105.7,"v":2},{"a0":-57.2,"a1":-58.1,"p0":14.3,"p1":99.8,"v":2},{"a0":-58.1,"a1":-59,"p0":8.4,"p1":94,"v":2},{"a0":-59,"a1":-60,"p0":8.4,"p1":88.1,"v":2},
{"a0":-41.9,"a1":-42.75,"p0":208.1,"p1":242.8,"v":2},{"a0":-42.75,"a1":-43.5,"p0":203,"p1":253.3,"v":2},{"a0":-43.5,"a1":-44.5,"p0":197.1,"p1":265.1,"v":2},{"a0":-44.5,"a1":-45.4,"p0":197.1,"p1":270.9,"v":2},{"a0":-45.4,"a1":-46.25,"p0":191.2,"p1":276.8,"v":2},{"a0":-46.25,"a1":-47.1,"p0":191.2,"p1":287.3,"v":2},{"a0":-47.1,"a1":-47.9,"p0":191.2,"p1":293.2,"v":2},{"a0":-47.9,"a1":-48.75,"p0":185.4,"p1":299,"v":2},{"a0":-48.75,"a1":-50.4,"p0":185.4,"p1":304.9,"v":2},{"a0":-50.4,"a1":-53.75,"p0":179.5,"p1":310.8,"v":2},{"a0":-53.75,"a1":-60,"p0":174.8,"p1":316.6,"v":2},
{"a0":-37.65,"a1":-38.5,"p0":117.4,"p1":133.8,"v":3},{"a0":-38.5,"a1":-39.9,"p0":111.6,"p1":139.7,"v":3},{"a0":-39.9,"a1":-40.6,"p0":111.6,"p1":145.5,"v":3},{"a0":-40.6,"a1":-41.9,"p0":99.8,"p1":145.5,"v":3},{"a0":-41.9,"a1":-42.8,"p0":94,"p1":145.5,"v":3},{"a0":-42.8,"a1":-43.5,"p0":83.4,"p1":145.5,"v":3},{"a0":-43.5,"a1":-44.5,"p0":77.6,"p1":145.5,"v":3},{"a0":-44.5,"a1":-45.4,"p0":71.7,"p1":145.5,"v":3},{"a0":-45.4,"a1":-46.2,"p0":65.9,"p1":145.5,"v":3},{"a0":-46.2,"a1":-47.1,"p0":60,"p1":145.5,"v":3},{"a0":-47.1,"a1":-48.85,"p0":54.1,"p1":145.5,"v":3},{"a0":-48.85,"a1":-49.95,"p0":48.8,"p1":145.5,"v":3},{"a0":-49.95,"a1":-51.2,"p0":43.6,"p1":139.7,"v":3},{"a0":-51.2,"a1":-52.1,"p0":37.7,"p1":139.7,"v":3},{"a0":-52.1,"a1":-53,"p0":37.7,"p1":133.8,"v":3},{"a0":-53,"a1":-53.85,"p0":37.7,"p1":128,"v":3},{"a0":-53.85,"a1":-54.7,"p0":31.9,"p1":122.1,"v":3},{"a0":-54.7,"a1":-55.6,"p0":31.9,"p1":117.4,"v":3},{"a0":-55.6,"a1":-56.45,"p0":26,"p1":105.7,"v":3},{"a0":-56.45,"a1":-57.2,"p0":20.2,"p1":99.8,"v":3},{"a0":-57.2,"a1":-58.1,"p0":20.2,"p1":94,"v":3},{"a0":-58.1,"a1":-59,"p0":14.3,"p1":88.1,"v":3},{"a0":-59,"a1":-60,"p0":14.3,"p1":82.3,"v":3},
{"a0":-42.75,"a1":-43.5,"p0":214.7,"p1":236.9,"v":3},{"a0":-43.5,"a1":-44.5,"p0":203,"p1":253.3,"v":3},{"a0":-44.5,"a1":-45.4,"p0":203,"p1":265.1,"v":3},{"a0":-45.4,"a1":-46.25,"p0":197.1,"p1":270.9,"v":3},{"a0":-46.25,"a1":-47.1,"p0":197.1,"p1":276.8,"v":3},{"a0":-47.1,"a1":-48.75,"p0":191.2,"p1":287.3,"v":3},{"a0":-48.75,"a1":-50.4,"p0":191.2,"p1":293.2,"v":3},{"a0":-50.4,"a1":-52.1,"p0":185.4,"p1":304.9,"v":3},{"a0":-52.1,"a1":-53.75,"p0":179.5,"p1":304.9,"v":3},{"a0":-53.75,"a1":-58.1,"p0":179.5,"p1":310.8,"v":3},{"a0":-58.1,"a1":-60,"p0":174.8,"p1":316.6,"v":3},
{"a0":-38.5,"a1":-39.2,"p0":122.1,"p1":133.8,"v":4},{"a0":-39.2,"a1":-39.9,"p0":117.4,"p1":139.7,"v":4},{"a0":-39.9,"a1":-40.6,"p0":111.6,"p1":139.7,"v":4},
{"a0":-43.5,"a1":-44.4,"p0":214.7,"p1":236.9,"v":4},{"a0":-44.4,"a1":-45.4,"p0":208.1,"p1":242.8,"v":4},{"a0":-45.4,"a1":-46.25,"p0":203,"p1":259.2,"v":4},{"a0":-46.25,"a1":-47.1,"p0":197.1,"p1":265.1,"v":4},{"a0":-47.1,"a1":-48,"p0":197.1,"p1":270.9,"v":4},{"a0":-48,"a1":-49.6,"p0":191.2,"p1":282.6,"v":4},{"a0":-49.6,"a1":-51.25,"p0":191.2,"p1":293.2,"v":4},{"a0":-51.25,"a1":-53.75,"p0":185.4,"p1":299,"v":4},{"a0":-53.75,"a1":-58.1,"p0":179.5,"p1":304.9,"v":4},{"a0":-58.1,"a1":-60,"p0":179.5,"p1":310.8,"v":4},
{"a0":-39.2,"a1":-39.9,"p0":117.4,"p1":135,"v":5},{"a0":-39.9,"a1":-40.6,"p0":111.6,"p1":139.7,"v":5},{"a0":-40.6,"a1":-41.9,"p0":105.7,"p1":145.5,"v":5},{"a0":-41.9,"a1":-42.8,"p0":99.8,"p1":145.5,"v":5},{"a0":-42.8,"a1":-43.5,"p0":94,"p1":145.5,"v":5},{"a0":-43.5,"a1":-44.5,"p0":88.1,"p1":145.5,"v":5},{"a0":-44.5,"a1":-45.4,"p0":82.3,"p1":145.5,"v":5},{"a0":-45.4,"a1":-46.2,"p0":71.7,"p1":145.5,"v":5},{"a0":-46.2,"a1":-47.1,"p0":65.9,"p1":145.5,"v":5},{"a0":-47.1,"a1":-48.85,"p0":60,"p1":145.5,"v":5},{"a0":-48.85,"a1":-49.95,"p0":54.1,"p1":145.5,"v":5},{"a0":-49.95,"a1":-51.2,"p0":48.3,"p1":133.8,"v":5},{"a0":-51.2,"a1":-52.1,"p0":42.4,"p1":130.3,"v":5},{"a0":-52.1,"a1":-53,"p0":42.4,"p1":122.1,"v":5},{"a0":-53,"a1":-53.85,"p0":37.7,"p1":117.4,"v":5},{"a0":-53.85,"a1":-54.7,"p0":37.7,"p1":111.6,"v":5},{"a0":-54.7,"a1":-55.6,"p0":31.9,"p1":105.7,"v":5},{"a0":-55.6,"a1":-56.45,"p0":31.9,"p1":99.8,"v":5},{"a0":-56.45,"a1":-57.2,"p0":26,"p1":94,"v":5},{"a0":-57.2,"a1":-58.1,"p0":26,"p1":88.1,"v":5},{"a0":-58.1,"a1":-59,"p0":20.2,"p1":82.3,"v":5},{"a0":-59,"a1":-60,"p0":20.2,"p1":77.6,"v":5},
{"a0":-46.1,"a1":-46.9,"p0":208.1,"p1":248.7,"v":5},{"a0":-46.9,"a1":-47.75,"p0":203,"p1":259.2,"v":5},{"a0":-47.75,"a1":-48.75,"p0":197.1,"p1":265.1,"v":5},{"a0":-48.75,"a1":-50.4,"p0":197.1,"p1":282.6,"v":5},{"a0":-50.4,"a1":-52.1,"p0":191.2,"p1":287.3,"v":5},{"a0":-52.1,"a1":-53.75,"p0":185.4,"p1":293.2,"v":5},{"a0":-53.75,"a1":-58.1,"p0":180,"p1":304.9,"v":5},{"a0":-58.1,"a1":-60,"p0":180,"p1":310.8,"v":5},
{"a0":-39.9,"a1":-40.6,"p0":118,"p1":135,"v":6},{"a0":-40.6,"a1":-41.9,"p0":111.6,"p1":139.7,"v":6},{"a0":-41.9,"a1":-42.8,"p0":105.7,"p1":139.7,"v":6},{"a0":-42.8,"a1":-43.5,"p0":99.8,"p1":139.7,"v":6},{"a0":-43.5,"a1":-44.5,"p0":94,"p1":139.7,"v":6},{"a0":-44.5,"a1":-45.4,"p0":88.1,"p1":139.7,"v":6},{"a0":-45.4,"a1":-46.2,"p0":82.3,"p1":139.7,"v":6},{"a0":-46.2,"a1":-47.1,"p0":71.7,"p1":139.7,"v":6},{"a0":-47.1,"a1":-48,"p0":65.9,"p1":139.7,"v":6},{"a0":-48,"a1":-48.85,"p0":60,"p1":137.3,"v":6},{"a0":-48.85,"a1":-49.95,"p0":58.8,"p1":135,"v":6},{"a0":-49.95,"a1":-51.2,"p0":54.1,"p1":128,"v":6},{"a0":-51.2,"a1":-52.1,"p0":48.3,"p1":122.1,"v":6},{"a0":-52.1,"a1":-53,"p0":48.3,"p1":117.4,"v":6},{"a0":-53,"a1":-53.85,"p0":42.4,"p1":111.6,"v":6},{"a0":-53.85,"a1":-54.7,"p0":42.4,"p1":105.7,"v":6},{"a0":-54.7,"a1":-55.6,"p0":36.6,"p1":99.8,"v":6},{"a0":-55.6,"a1":-56.45,"p0":36.6,"p1":94,"v":6},{"a0":-56.45,"a1":-57.2,"p0":31.9,"p1":88.1,"v":6},{"a0":-57.2,"a1":-58.1,"p0":31.4,"p1":82.3,"v":6},{"a0":-58.1,"a1":-59,"p0":26,"p1":77.6,"v":6},{"a0":-59,"a1":-60,"p0":26,"p1":71.7,"v":6},
{"a0":-46.1,"a1":-46.9,"p0":208.1,"p1":248.7,"v":6},{"a0":-46.9,"a1":-47.75,"p0":203,"p1":259.2,"v":6},{"a0":-47.75,"a1":-48.75,"p0":197.1,"p1":265.1,"v":6},{"a0":-48.75,"a1":-50.4,"p0":197.1,"p1":276.8,"v":6},{"a0":-50.4,"a1":-52.1,"p0":191.2,"p1":287.3,"v":6},{"a0":-52.1,"a1":-53.75,"p0":185.4,"p1":293.2,"v":6},{"a0":-53.75,"a1":-55.5,"p0":185.4,"p1":299,"v":6},{"a0":-55.5,"a1":-58.1,"p0":180,"p1":304.9,"v":6},{"a0":-58.1,"a1":-60,"p0":185.4,"p1":304.9,"v":6},
{"a0":-58.95,"a1":-59.85,"p0":213.5,"p1":247.5,"v":4}]
},
"vconcat":[
{"spacing":0,"bounds":"flush","hconcat":[
{"width":765,"height":600,"title":{"text":"(a) 77 kV","offset":50,"dx":-72},"layer":[
{"data":{"name":"a"},"mark":{"type":"rect","strokeWidth":1},"encoding":{"x":{"field":"p0","type":"quantitative","scale":{"domain":[0,360],"nice":false},"axis":{"title":"Phase(°)","values":[0,90,180,270,360],"tickSize":-20,"labelPadding":36,"titleX":408,"titleY":77,"titleBaseline":"middle"}},"x2":{"field":"p1"},"y":{"field":"a0","type":"quantitative","scale":{"domain":[-74,-20],"nice":false},"axis":{"title":"Amplitude(dB)","titleFontSize":60,"values":[-20,-30,-40,-50,-60,-70],"tickSize":20,"labelPadding":2,"titleX":-150,"titleY":267,"titleBaseline":"middle"}},"y2":{"field":"a1"},"color":{"field":"v","type":"ordinal","legend":null,"scale":{"domain":[1,2,3,4,5,6],"range":["#ececec","#c8c8c8","#a0a0a0","#6e6e6e","#303030","#000000"]}},"stroke":{"field":"v","type":"ordinal","legend":null,"scale":{"domain":[1,2,3,4,5,6],"range":["#ececec","#c8c8c8","#a0a0a0","#6e6e6e","#303030","#000000"]}}}},
{"data":{"name":"xg"},"mark":{"type":"rule","stroke":"#fff","blend":"difference"},"encoding":{"x":{"field":"p","type":"quantitative"}}},
{"data":{"name":"xg"},"mark":{"type":"rule","stroke":"#d1d1d1","opacity":0.733},"encoding":{"x":{"field":"p","type":"quantitative"}}},
{"data":{"name":"yg5"},"mark":{"type":"rule","stroke":"#fff","blend":"difference"},"encoding":{"y":{"field":"q","type":"quantitative"}}},
{"data":{"name":"yg5"},"mark":{"type":"rule","stroke":"#d1d1d1","opacity":0.733},"encoding":{"y":{"field":"q","type":"quantitative"}}}]},
{"width":473,"height":10,"view":{"stroke":null},"data":{"name":"blank"},"mark":{"type":"rect","opacity":0},"encoding":{}},
{"width":758,"height":598,"title":{"text":"(b) 80 kV","offset":50,"dx":-65},"layer":[
{"data":{"name":"b"},"mark":{"type":"rect","strokeWidth":1},"encoding":{"x":{"field":"p0","type":"quantitative","scale":{"domain":[0,360],"nice":false},"axis":{"title":"Phase(°)","values":[0,90,180,270,360],"tickSize":-20,"labelPadding":36,"titleX":392,"titleY":77,"titleBaseline":"middle"}},"x2":{"field":"p1"},"y":{"field":"a0","type":"quantitative","scale":{"domain":[-74,-20],"nice":false},"axis":{"title":"Amplitude(dB)","titleFontSize":60,"values":[-20,-30,-40,-50,-60,-70],"tickSize":20,"labelPadding":2,"titleX":-156,"titleY":267,"titleBaseline":"middle"}},"y2":{"field":"a1"},"color":{"field":"v","type":"ordinal","legend":null,"scale":{"domain":[1,2,3,4,5,6],"range":["#ececec","#c8c8c8","#a0a0a0","#6e6e6e","#303030","#000000"]}},"stroke":{"field":"v","type":"ordinal","legend":null,"scale":{"domain":[1,2,3,4,5,6],"range":["#ececec","#c8c8c8","#a0a0a0","#6e6e6e","#303030","#000000"]}}}},
{"data":{"name":"xg"},"mark":{"type":"rule","stroke":"#fff","blend":"difference"},"encoding":{"x":{"field":"p","type":"quantitative"}}},
{"data":{"name":"xg"},"mark":{"type":"rule","stroke":"#d1d1d1","opacity":0.733},"encoding":{"x":{"field":"p","type":"quantitative"}}},
{"data":{"name":"yg5"},"mark":{"type":"rule","stroke":"#fff","blend":"difference"},"encoding":{"y":{"field":"q","type":"quantitative"}}},
{"data":{"name":"yg5"},"mark":{"type":"rule","stroke":"#d1d1d1","opacity":0.733},"encoding":{"y":{"field":"q","type":"quantitative"}}}]},
{"width":498,"height":10,"view":{"stroke":null},"data":{"name":"blank"},"mark":{"type":"rect","opacity":0},"encoding":{}},
{"width":733,"height":584,"title":{"text":"(c) 91 kV","offset":62,"dx":-71},"layer":[
{"data":{"name":"c"},"mark":{"type":"rect","strokeWidth":1},"encoding":{"x":{"field":"p0","type":"quantitative","scale":{"domain":[0,360],"nice":false},"axis":{"title":"Phase(°)","values":[0,90,180,270,360],"tickSize":-20,"labelPadding":36,"titleX":378,"titleY":81,"titleBaseline":"middle"}},"x2":{"field":"p1"},"y":{"field":"a0","type":"quantitative","scale":{"domain":[-74,-20],"nice":false},"axis":{"title":"Amplitude(dB)","titleFontSize":60,"values":[-20,-30,-40,-50,-60,-70],"tickSize":20,"labelPadding":2,"titleX":-143,"titleY":265,"titleBaseline":"middle"}},"y2":{"field":"a1"},"color":{"field":"v","type":"ordinal","legend":null,"scale":{"domain":[1,2,3,4,5,6],"range":["#ececec","#c8c8c8","#a0a0a0","#6e6e6e","#303030","#000000"]}},"stroke":{"field":"v","type":"ordinal","legend":null,"scale":{"domain":[1,2,3,4,5,6],"range":["#ececec","#c8c8c8","#a0a0a0","#6e6e6e","#303030","#000000"]}}}},
{"data":{"name":"xg"},"mark":{"type":"rule","stroke":"#fff","blend":"difference"},"encoding":{"x":{"field":"p","type":"quantitative"}}},
{"data":{"name":"xg"},"mark":{"type":"rule","stroke":"#d1d1d1","opacity":0.733},"encoding":{"x":{"field":"p","type":"quantitative"}}},
{"data":{"name":"yg5"},"mark":{"type":"rule","stroke":"#fff","blend":"difference"},"encoding":{"y":{"field":"q","type":"quantitative"}}},
{"data":{"name":"yg5"},"mark":{"type":"rule","stroke":"#d1d1d1","opacity":0.733},"encoding":{"y":{"field":"q","type":"quantitative"}}}]}
]},
{"spacing":0,"bounds":"flush","hconcat":[
{"width":785,"height":618,"title":{"text":"(d) 116 kV","offset":53,"dx":-82},"layer":[
{"data":{"name":"d"},"mark":{"type":"rect","strokeWidth":1},"encoding":{"x":{"field":"p0","type":"quantitative","scale":{"domain":[0,360],"nice":false},"axis":{"title":"Phase(°)","values":[0,90,180,270,360],"tickSize":-20,"labelPadding":36,"titleX":408,"titleY":81,"titleBaseline":"middle"}},"x2":{"field":"p1"},"y":{"field":"a0","type":"quantitative","scale":{"domain":[-72.1,-20],"nice":false},"axis":{"title":"Amplitude(dB)","titleFontSize":60,"values":[-20,-30,-40,-50,-60,-70],"tickSize":20,"labelPadding":2,"titleX":-141,"titleY":296,"titleBaseline":"middle"}},"y2":{"field":"a1"},"color":{"field":"v","type":"ordinal","legend":null,"scale":{"domain":[1,2,3,4,5,6],"range":["#ececec","#c8c8c8","#a0a0a0","#6e6e6e","#303030","#000000"]}},"stroke":{"field":"v","type":"ordinal","legend":null,"scale":{"domain":[1,2,3,4,5,6],"range":["#ececec","#c8c8c8","#a0a0a0","#6e6e6e","#303030","#000000"]}}}},
{"data":{"name":"xg"},"mark":{"type":"rule","stroke":"#fff","blend":"difference"},"encoding":{"x":{"field":"p","type":"quantitative"}}},
{"data":{"name":"xg"},"mark":{"type":"rule","stroke":"#d1d1d1","opacity":0.733},"encoding":{"x":{"field":"p","type":"quantitative"}}},
{"data":{"name":"yg5"},"mark":{"type":"rule","stroke":"#fff","blend":"difference"},"encoding":{"y":{"field":"q","type":"quantitative"}}},
{"data":{"name":"yg5"},"mark":{"type":"rule","stroke":"#d1d1d1","opacity":0.733},"encoding":{"y":{"field":"q","type":"quantitative"}}}]},
{"width":437,"height":10,"view":{"stroke":null},"data":{"name":"blank"},"mark":{"type":"rect","opacity":0},"encoding":{}},
{"width":806,"height":631,"title":{"text":"(e) 216 kV","offset":45,"dx":-75},"layer":[
{"data":{"name":"e"},"mark":{"type":"rect","strokeWidth":1},"encoding":{"x":{"field":"p0","type":"quantitative","scale":{"domain":[0,360],"nice":false},"axis":{"title":"Phase(°)","values":[0,90,180,270,360],"tickSize":-20,"labelPadding":36,"titleX":420,"titleY":79,"titleBaseline":"middle"}},"x2":{"field":"p1"},"y":{"field":"a0","type":"quantitative","scale":{"domain":[-60,-20],"nice":false},"axis":{"title":"Amplitude(dB)","titleFontSize":60,"values":[-20,-30,-40,-50,-60],"tickSize":20,"labelPadding":2,"titleX":-152,"titleY":314,"titleBaseline":"middle"}},"y2":{"field":"a1"},"color":{"field":"v","type":"ordinal","legend":null,"scale":{"domain":[1,2,3,4,5,6],"range":["#ececec","#c8c8c8","#a0a0a0","#6e6e6e","#303030","#000000"]}},"stroke":{"field":"v","type":"ordinal","legend":null,"scale":{"domain":[1,2,3,4,5,6],"range":["#ececec","#c8c8c8","#a0a0a0","#6e6e6e","#303030","#000000"]}}}},
{"data":{"name":"xg"},"mark":{"type":"rule","stroke":"#fff","blend":"difference"},"encoding":{"x":{"field":"p","type":"quantitative"}}},
{"data":{"name":"xg"},"mark":{"type":"rule","stroke":"#d1d1d1","opacity":0.733},"encoding":{"x":{"field":"p","type":"quantitative"}}},
{"data":{"name":"yg3"},"mark":{"type":"rule","stroke":"#fff","blend":"difference"},"encoding":{"y":{"field":"q","type":"quantitative"}}},
{"data":{"name":"yg3"},"mark":{"type":"rule","stroke":"#d1d1d1","opacity":0.733},"encoding":{"y":{"field":"q","type":"quantitative"}}}]},
{"width":424,"height":10,"view":{"stroke":null},"data":{"name":"blank"},"mark":{"type":"rect","opacity":0},"encoding":{}},
{"width":785,"height":613,"title":{"text":"(f) 256 kV","offset":58,"dx":-57},"layer":[
{"data":{"name":"f"},"mark":{"type":"rect","strokeWidth":1},"encoding":{"x":{"field":"p0","type":"quantitative","scale":{"domain":[0,360],"nice":false},"axis":{"title":"Phase(°)","values":[0,90,180,270,360],"tickSize":-20,"labelPadding":36,"titleX":404,"titleY":83,"titleBaseline":"middle"}},"x2":{"field":"p1"},"y":{"field":"a0","type":"quantitative","scale":{"domain":[-60,-20],"nice":false},"axis":{"title":"Amplitude(dB)","titleFontSize":60,"values":[-20,-30,-40,-50,-60],"tickSize":20,"labelPadding":2,"titleX":-148,"titleY":303,"titleBaseline":"middle"}},"y2":{"field":"a1"},"color":{"field":"v","type":"ordinal","legend":null,"scale":{"domain":[1,2,3,4,5,6],"range":["#ececec","#c8c8c8","#a0a0a0","#6e6e6e","#303030","#000000"]}},"stroke":{"field":"v","type":"ordinal","legend":null,"scale":{"domain":[1,2,3,4,5,6],"range":["#ececec","#c8c8c8","#a0a0a0","#6e6e6e","#303030","#000000"]}}}},
{"data":{"name":"xg"},"mark":{"type":"rule","stroke":"#fff","blend":"difference"},"encoding":{"x":{"field":"p","type":"quantitative"}}},
{"data":{"name":"xg"},"mark":{"type":"rule","stroke":"#d1d1d1","opacity":0.733},"encoding":{"x":{"field":"p","type":"quantitative"}}},
{"data":{"name":"yg3"},"mark":{"type":"rule","stroke":"#fff","blend":"difference"},"encoding":{"y":{"field":"q","type":"quantitative"}}},
{"data":{"name":"yg3"},"mark":{"type":"rule","stroke":"#d1d1d1","opacity":0.733},"encoding":{"y":{"field":"q","type":"quantitative"}}}]}
]}
]}
